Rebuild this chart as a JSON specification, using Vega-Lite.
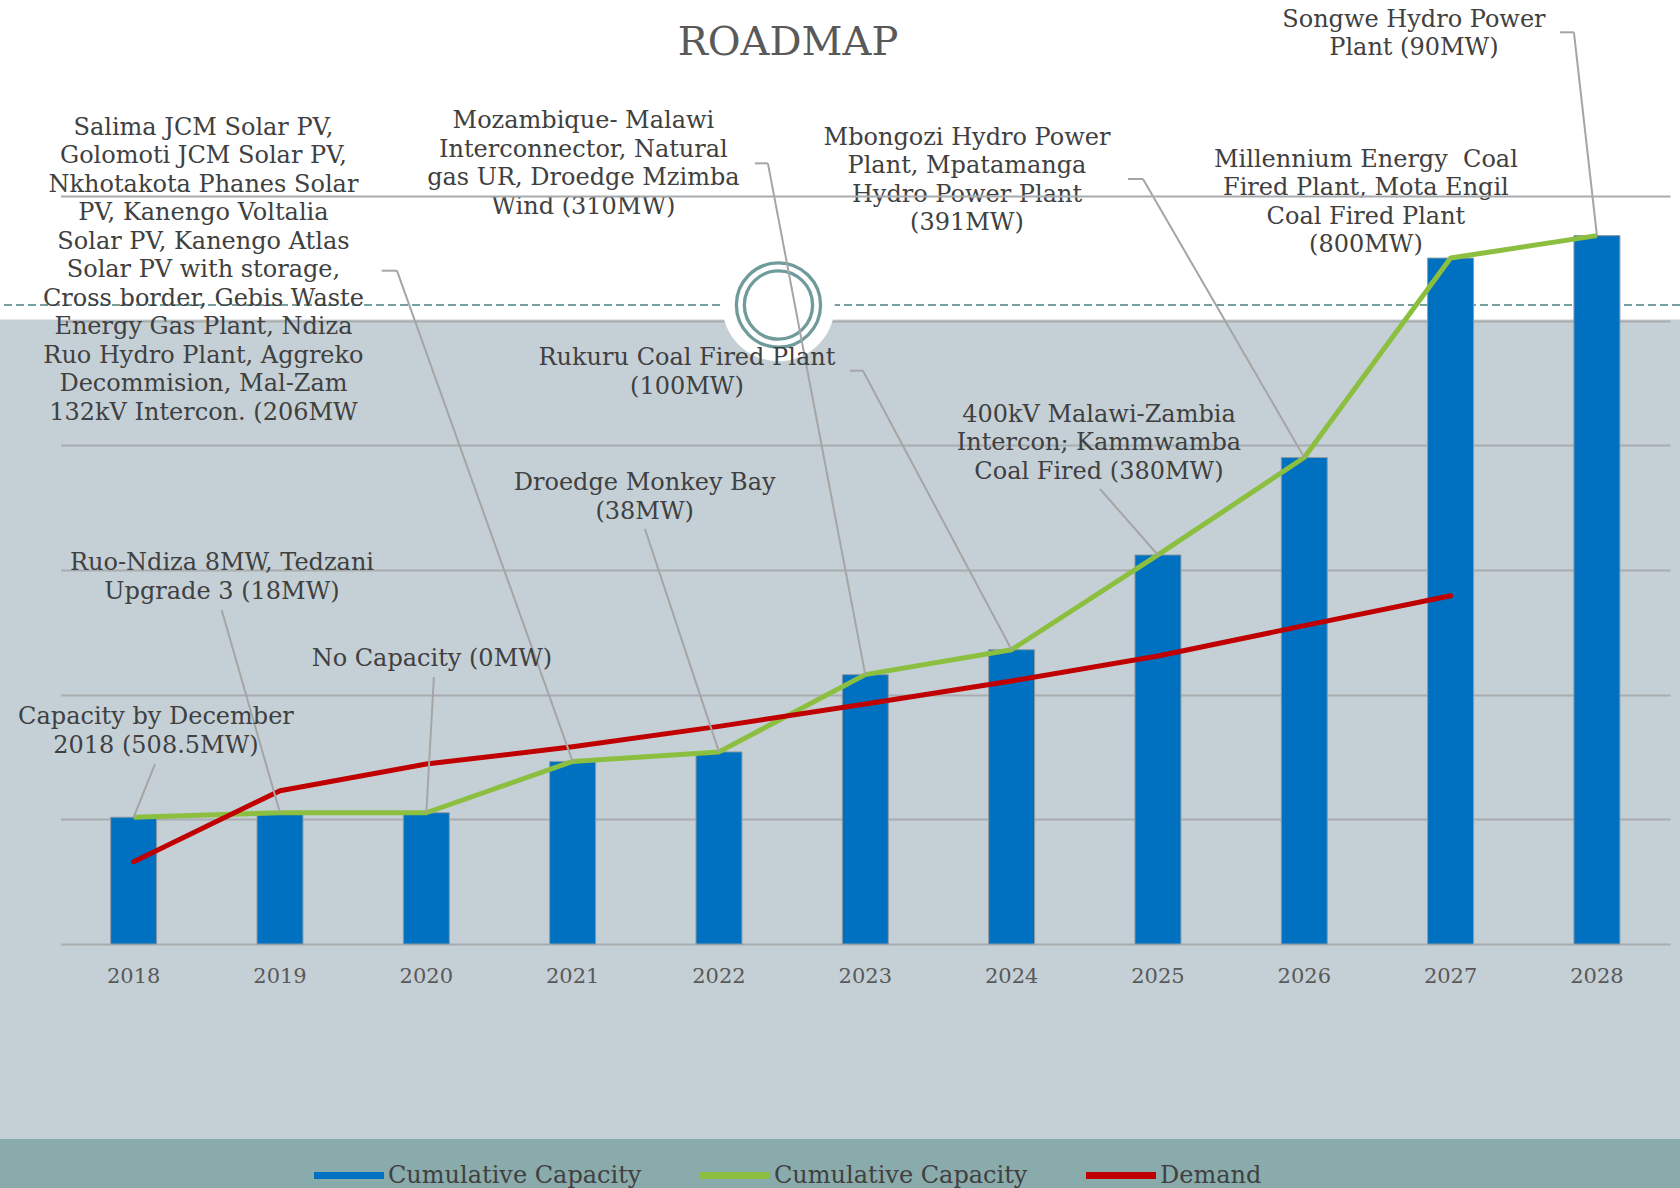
{
  "$schema": "https://vega.github.io/schema/vega-lite/v6.json",
  "width": 1680,
  "height": 944,
  "autosize": "none",
  "padding": {"left": 0, "top": 0, "right": 0, "bottom": 244},
  "background": "#C5D0D6",
  "title": {"text": "ROADMAP", "anchor": "middle", "frame": "group", "offset": 0, "baseline": "alphabetic", "dy": 95, "dx": -52, "font": "DejaVu Serif", "fontSize": 40, "fontWeight": "normal", "color": "#595959"},
  "data": {"values": [
    {"year": 2018, "capacity": 508.5, "demand": 330, "note": "Capacity by December\n2018 (508.5MW)"},
    {"year": 2019, "capacity": 526.5, "demand": 615, "note": "Ruo-Ndiza 8MW, Tedzani\nUpgrade 3 (18MW)"},
    {"year": 2020, "capacity": 526.5, "demand": 722, "note": "No Capacity (0MW)"},
    {"year": 2021, "capacity": 732.5, "demand": 791, "note": "Salima JCM Solar PV,\nGolomoti JCM Solar PV,\nNkhotakota Phanes Solar\nPV, Kanengo Voltalia\nSolar PV, Kanengo Atlas\nSolar PV with storage,\nCross border, Gebis Waste\nEnergy Gas Plant, Ndiza\nRuo Hydro Plant, Aggreko\nDecommision, Mal-Zam\n132kV Intercon. (206MW"},
    {"year": 2022, "capacity": 770.5, "demand": 873, "note": "Droedge Monkey Bay\n(38MW)"},
    {"year": 2023, "capacity": 1080.5, "demand": 963, "note": "Mozambique- Malawi\nInterconnector, Natural\ngas UR, Droedge Mzimba\nWind (310MW)"},
    {"year": 2024, "capacity": 1180.5, "demand": 1055, "note": "Rukuru Coal Fired Plant\n(100MW)"},
    {"year": 2025, "capacity": 1560.5, "demand": 1155, "note": "400kV Malawi-Zambia\nIntercon; Kammwamba\nCoal Fired (380MW)"},
    {"year": 2026, "capacity": 1951.5, "demand": 1277, "note": "Mbongozi Hydro Power\nPlant, Mpatamanga\nHydro Power Plant\n(391MW)"},
    {"year": 2027, "capacity": 2751.5, "demand": 1397, "note": "Millennium Energy\u00a0 Coal\nFired Plant, Mota Engil\nCoal Fired Plant\n(800MW)"},
    {"year": 2028, "capacity": 2841.5, "demand": null, "note": "Songwe Hydro Power\nPlant (90MW)"}
  ]},
  "resolve": {"axis": {"y": "independent"}},
  "layer": [
    {
      "data": {"values": [{"region": "header"}]},
      "mark": {"type": "rect", "fill": "#FFFFFF"},
      "encoding": {
        "y": {"datum": 2505, "type": "quantitative", "scale": {"domain": [0, 3786.6], "nice": false, "zero": false}, "axis": null},
        "y2": {"datum": 3786.6}
      }
    },
    {
      "data": {"values": [{"region": "footer"}]},
      "mark": {"type": "rect", "fill": "#8AABAB"},
      "encoding": {
        "y": {"datum": -978.7, "type": "quantitative", "axis": null},
        "y2": {"datum": -782.2}
      }
    },
    {
      "data": {"values": [{"region": "divider"}]},
      "mark": {"type": "rule", "stroke": "#76A0A0", "strokeWidth": 2, "strokeDash": [8, 4]},
      "encoding": {"y": {"datum": 2563, "type": "quantitative", "axis": null}}
    },
    {
      "data": {"values": [{"region": "badge"}]},
      "mark": {"type": "point", "shape": "circle", "filled": true, "fill": "#FFFFFF", "opacity": 1, "size": 12668, "strokeWidth": 0, "xOffset": 59.5},
      "encoding": {"x": {"datum": 2022, "type": "ordinal", "axis": null}, "y": {"datum": 2563, "type": "quantitative", "axis": null}}
    },
    {
      "data": {"values": [{"region": "badge"}]},
      "mark": {"type": "point", "shape": "circle", "filled": false, "stroke": "#6F9B9B", "strokeWidth": 3.3, "opacity": 1, "size": 7088, "xOffset": 59.5},
      "encoding": {"x": {"datum": 2022, "type": "ordinal", "axis": null}, "y": {"datum": 2563, "type": "quantitative", "axis": null}}
    },
    {
      "data": {"values": [{"region": "badge"}]},
      "mark": {"type": "point", "shape": "circle", "filled": false, "stroke": "#6F9B9B", "strokeWidth": 3.3, "opacity": 1, "size": 4657, "xOffset": 59.5},
      "encoding": {"x": {"datum": 2022, "type": "ordinal", "axis": null}, "y": {"datum": 2563, "type": "quantitative", "axis": null}}
    },
    {
      "mark": {"type": "bar", "stroke": "#8E9BA5", "strokeWidth": 1},
      "encoding": {
        "x": {"field": "year", "type": "ordinal", "scale": {"type": "band", "range": [60.5, 1670.1], "paddingInner": 0.6857, "paddingOuter": 0.3429}, "axis": null},
        "y": {"field": "capacity", "type": "quantitative",
              "axis": {"orient": "left", "values": [0, 500, 1000, 1500, 2000, 2500], "grid": true, "gridColor": "#A9ACAE", "gridWidth": 2, "labels": false, "ticks": false, "domain": false, "title": null, "zindex": 0}},
        "color": {"datum": "Cumulative Capacity (bars)",
                  "scale": {"domain": ["Cumulative Capacity (bars)", "Cumulative Capacity (line)", "Demand"], "range": ["#0070C0", "#8CBF3F", "#C00000"]},
                  "legend": {"orient": "none", "legendX": 314, "legendY": 1140.5, "direction": "horizontal", "title": null,
                             "symbolSize": 4900, "symbolType": "M-1,-0.1H1V0.1H-1Z", "symbolStrokeWidth": 0, "symbolOpacity": 1,
                             "labelFont": "DejaVu Serif", "labelFontSize": 24, "labelColor": "#404040", "labelOffset": 4, "labelLimit": 500,
                             "columnPadding": 58, "labelExpr": "split(datum.label, ' (')[0]",
                             "encode": {"symbols": {"update": {
                               "shape": {"signal": "datum.value == 'Cumulative Capacity (bars)' ? 'M-0.9,-0.2H0.9V0.2H-0.9Z' : (datum.value == 'Demand' ? 'M-1,-0.086H1V0.086H-1Z' : 'M-1,-0.1H1V0.1H-1Z')"},
                               "fill": {"scale": "color", "field": "value"},
                               "strokeWidth": {"value": 0}}}}}}
      }
    },
    {
      "mark": {"type": "text", "dy": 39, "fontSize": 21, "color": "#595959"},
      "encoding": {
        "x": {"field": "year", "type": "ordinal", "axis": null},
        "y": {"datum": 0, "type": "quantitative", "axis": null},
        "text": {"field": "year", "type": "quantitative", "format": "d"}
      }
    },
    {
      "mark": {"type": "line", "strokeWidth": 5, "strokeJoin": "round"},
      "encoding": {
        "x": {"field": "year", "type": "ordinal", "axis": null},
        "y": {"field": "capacity", "type": "quantitative", "axis": null},
        "color": {"datum": "Cumulative Capacity (line)", "legend": null}
      }
    },
    {
      "mark": {"type": "line", "strokeWidth": 5, "strokeJoin": "round", "strokeCap": "round"},
      "encoding": {
        "x": {"field": "year", "type": "ordinal", "axis": null},
        "y": {"field": "demand", "type": "quantitative", "axis": null},
        "color": {"datum": "Demand", "legend": null}
      }
    },
    {"transform": [{"filter": "datum.year == 2018"}], "mark": {"type": "rule", "x2Offset": 21.3, "y2Offset": -53.2},
     "encoding": {"x": {"field": "year", "type": "ordinal", "axis": null}, "x2": {"field": "year"}, "y": {"field": "capacity", "type": "quantitative", "axis": null}, "y2": {"field": "capacity"}}},
    {"transform": [{"filter": "datum.year == 2019"}], "mark": {"type": "rule", "x2Offset": -58.3, "y2Offset": -202.7},
     "encoding": {"x": {"field": "year", "type": "ordinal", "axis": null}, "x2": {"field": "year"}, "y": {"field": "capacity", "type": "quantitative", "axis": null}, "y2": {"field": "capacity"}}},
    {"transform": [{"filter": "datum.year == 2020"}], "mark": {"type": "rule", "x2Offset": 7.6, "y2Offset": -135.7},
     "encoding": {"x": {"field": "year", "type": "ordinal", "axis": null}, "x2": {"field": "year"}, "y": {"field": "capacity", "type": "quantitative", "axis": null}, "y2": {"field": "capacity"}}},
    {"transform": [{"filter": "datum.year == 2021"}], "mark": {"type": "rule", "x2Offset": -175.7, "y2Offset": -490.7},
     "encoding": {"x": {"field": "year", "type": "ordinal", "axis": null}, "x2": {"field": "year"}, "y": {"field": "capacity", "type": "quantitative", "axis": null}, "y2": {"field": "capacity"}}},
    {"transform": [{"filter": "datum.year == 2021"}], "mark": {"type": "rule", "xOffset": -175.7, "yOffset": -490.7, "x2Offset": -191, "y2Offset": -490.7},
     "encoding": {"x": {"field": "year", "type": "ordinal", "axis": null}, "x2": {"field": "year"}, "y": {"field": "capacity", "type": "quantitative", "axis": null}, "y2": {"field": "capacity"}}},
    {"transform": [{"filter": "datum.year == 2022"}], "mark": {"type": "rule", "x2Offset": -74, "y2Offset": -222.9},
     "encoding": {"x": {"field": "year", "type": "ordinal", "axis": null}, "x2": {"field": "year"}, "y": {"field": "capacity", "type": "quantitative", "axis": null}, "y2": {"field": "capacity"}}},
    {"transform": [{"filter": "datum.year == 2023"}], "mark": {"type": "rule", "x2Offset": -97.4, "y2Offset": -511.3},
     "encoding": {"x": {"field": "year", "type": "ordinal", "axis": null}, "x2": {"field": "year"}, "y": {"field": "capacity", "type": "quantitative", "axis": null}, "y2": {"field": "capacity"}}},
    {"transform": [{"filter": "datum.year == 2023"}], "mark": {"type": "rule", "xOffset": -97.4, "yOffset": -511.3, "x2Offset": -110.4, "y2Offset": -511.3},
     "encoding": {"x": {"field": "year", "type": "ordinal", "axis": null}, "x2": {"field": "year"}, "y": {"field": "capacity", "type": "quantitative", "axis": null}, "y2": {"field": "capacity"}}},
    {"transform": [{"filter": "datum.year == 2024"}], "mark": {"type": "rule", "x2Offset": -148.7, "y2Offset": -279},
     "encoding": {"x": {"field": "year", "type": "ordinal", "axis": null}, "x2": {"field": "year"}, "y": {"field": "capacity", "type": "quantitative", "axis": null}, "y2": {"field": "capacity"}}},
    {"transform": [{"filter": "datum.year == 2024"}], "mark": {"type": "rule", "xOffset": -148.7, "yOffset": -279, "x2Offset": -161.7, "y2Offset": -279},
     "encoding": {"x": {"field": "year", "type": "ordinal", "axis": null}, "x2": {"field": "year"}, "y": {"field": "capacity", "type": "quantitative", "axis": null}, "y2": {"field": "capacity"}}},
    {"transform": [{"filter": "datum.year == 2025"}], "mark": {"type": "rule", "x2Offset": -58, "y2Offset": -66},
     "encoding": {"x": {"field": "year", "type": "ordinal", "axis": null}, "x2": {"field": "year"}, "y": {"field": "capacity", "type": "quantitative", "axis": null}, "y2": {"field": "capacity"}}},
    {"transform": [{"filter": "datum.year == 2026"}], "mark": {"type": "rule", "x2Offset": -161.3, "y2Offset": -278.5},
     "encoding": {"x": {"field": "year", "type": "ordinal", "axis": null}, "x2": {"field": "year"}, "y": {"field": "capacity", "type": "quantitative", "axis": null}, "y2": {"field": "capacity"}}},
    {"transform": [{"filter": "datum.year == 2026"}], "mark": {"type": "rule", "xOffset": -161.3, "yOffset": -278.5, "x2Offset": -176.3, "y2Offset": -278.5},
     "encoding": {"x": {"field": "year", "type": "ordinal", "axis": null}, "x2": {"field": "year"}, "y": {"field": "capacity", "type": "quantitative", "axis": null}, "y2": {"field": "capacity"}}},
    {"transform": [{"filter": "datum.year == 2028"}], "mark": {"type": "rule", "x2Offset": -23, "y2Offset": -203.3},
     "encoding": {"x": {"field": "year", "type": "ordinal", "axis": null}, "x2": {"field": "year"}, "y": {"field": "capacity", "type": "quantitative", "axis": null}, "y2": {"field": "capacity"}}},
    {"transform": [{"filter": "datum.year == 2028"}], "mark": {"type": "rule", "xOffset": -23, "yOffset": -203.3, "x2Offset": -37, "y2Offset": -203.3},
     "encoding": {"x": {"field": "year", "type": "ordinal", "axis": null}, "x2": {"field": "year"}, "y": {"field": "capacity", "type": "quantitative", "axis": null}, "y2": {"field": "capacity"}}},
    {"transform": [{"filter": "datum.year == 2018"}], "mark": {"type": "text", "lineBreak": "\n", "dx": 22.3, "dy": -93.2},
     "encoding": {"x": {"field": "year", "type": "ordinal", "axis": null}, "y": {"field": "capacity", "type": "quantitative", "axis": null}, "text": {"field": "note"}}},
    {"transform": [{"filter": "datum.year == 2019"}], "mark": {"type": "text", "lineBreak": "\n", "dx": -58, "dy": -242.7},
     "encoding": {"x": {"field": "year", "type": "ordinal", "axis": null}, "y": {"field": "capacity", "type": "quantitative", "axis": null}, "text": {"field": "note"}}},
    {"transform": [{"filter": "datum.year == 2020"}], "mark": {"type": "text", "lineBreak": "\n", "dx": 5.6, "dy": -146.7},
     "encoding": {"x": {"field": "year", "type": "ordinal", "axis": null}, "y": {"field": "capacity", "type": "quantitative", "axis": null}, "text": {"field": "note"}}},
    {"transform": [{"filter": "datum.year == 2021"}], "mark": {"type": "text", "lineBreak": "\n", "dx": -369.2, "dy": -626.4},
     "encoding": {"x": {"field": "year", "type": "ordinal", "axis": null}, "y": {"field": "capacity", "type": "quantitative", "axis": null}, "text": {"field": "note"}}},
    {"transform": [{"filter": "datum.year == 2022"}], "mark": {"type": "text", "lineBreak": "\n", "dx": -74.3, "dy": -261.9},
     "encoding": {"x": {"field": "year", "type": "ordinal", "axis": null}, "y": {"field": "capacity", "type": "quantitative", "axis": null}, "text": {"field": "note"}}},
    {"transform": [{"filter": "datum.year == 2023"}], "mark": {"type": "text", "lineBreak": "\n", "dx": -281.9, "dy": -546.3},
     "encoding": {"x": {"field": "year", "type": "ordinal", "axis": null}, "y": {"field": "capacity", "type": "quantitative", "axis": null}, "text": {"field": "note"}}},
    {"transform": [{"filter": "datum.year == 2024"}], "mark": {"type": "text", "lineBreak": "\n", "dx": -324.7, "dy": -284.7},
     "encoding": {"x": {"field": "year", "type": "ordinal", "axis": null}, "y": {"field": "capacity", "type": "quantitative", "axis": null}, "text": {"field": "note"}}},
    {"transform": [{"filter": "datum.year == 2025"}], "mark": {"type": "text", "lineBreak": "\n", "dx": -59, "dy": -133.3},
     "encoding": {"x": {"field": "year", "type": "ordinal", "axis": null}, "y": {"field": "capacity", "type": "quantitative", "axis": null}, "text": {"field": "note"}}},
    {"transform": [{"filter": "datum.year == 2026"}], "mark": {"type": "text", "lineBreak": "\n", "dx": -337.3, "dy": -312.5},
     "encoding": {"x": {"field": "year", "type": "ordinal", "axis": null}, "y": {"field": "capacity", "type": "quantitative", "axis": null}, "text": {"field": "note"}}},
    {"transform": [{"filter": "datum.year == 2027"}], "mark": {"type": "text", "lineBreak": "\n", "dx": -84.7, "dy": -91.3},
     "encoding": {"x": {"field": "year", "type": "ordinal", "axis": null}, "y": {"field": "capacity", "type": "quantitative", "axis": null}, "text": {"field": "note"}}},
    {"transform": [{"filter": "datum.year == 2028"}], "mark": {"type": "text", "lineBreak": "\n", "dx": -183, "dy": -208.9},
     "encoding": {"x": {"field": "year", "type": "ordinal", "axis": null},
                  "y": {"field": "capacity", "type": "quantitative",
                        "axis": {"orient": "left", "values": [3000], "grid": true, "gridColor": "#A9ACAE", "gridWidth": 2, "labels": false, "ticks": false, "domain": false, "title": null, "zindex": 1}},
                  "text": {"field": "note"}}}
  ],
  "config": {
    "view": {"stroke": null},
    "text": {"font": "DejaVu Serif", "fontSize": 24, "lineHeight": 28.5, "align": "center", "baseline": "alphabetic", "color": "#404040"},
    "rule": {"color": "#A5A5A5", "strokeWidth": 2}
  }
}
